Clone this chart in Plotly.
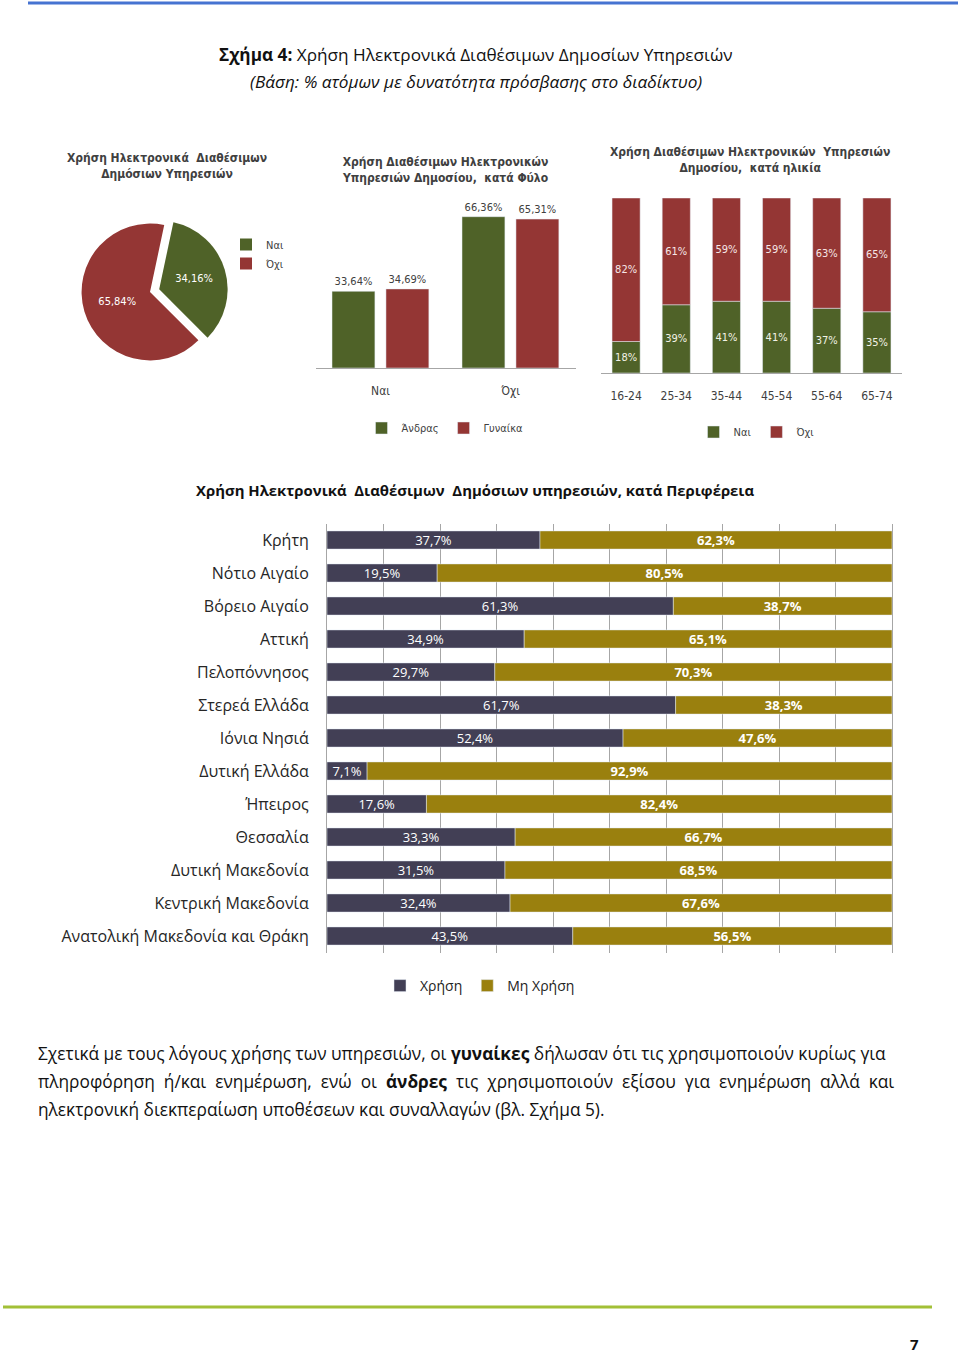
import plotly.graph_objects as go

W, H = 960, 1355


def px(x):
    return x / W


def py(y):
    return 1 - y / H


# ---------------- data ----------------
pie_labels = ["Ναι", "Όχι"]
pie_values = [34.16, 65.84]

gender_cats = ["Ναι", "Όχι"]
gender_male = [33.64, 66.36]
gender_female = [34.69, 65.31]

age_groups = ["16-24", "25-34", "35-44", "45-54", "55-64", "65-74"]
age_yes = [18, 39, 41, 41, 37, 35]
age_no = [82, 61, 59, 59, 63, 65]

regions = ["Κρήτη", "Νότιο Αιγαίο", "Βόρειο Αιγαίο", "Αττική", "Πελοπόννησος",
           "Στερεά Ελλάδα", "Ιόνια Νησιά", "Δυτική Ελλάδα", "Ήπειρος", "Θεσσαλία",
           "Δυτική Μακεδονία", "Κεντρική Μακεδονία", "Ανατολική Μακεδονία και Θράκη"]
region_use = [37.7, 19.5, 61.3, 34.9, 29.7, 61.7, 52.4, 7.1, 17.6, 33.3, 31.5, 32.4, 43.5]
region_nonuse = [62.3, 80.5, 38.7, 65.1, 70.3, 38.3, 47.6, 92.9, 82.4, 66.7, 68.5, 67.6, 56.5]

# ---------------- styles ----------------
BODY = "Open Sans, Noto Sans, sans-serif"
COND = "Liberation Sans Narrow, DejaVu Sans Condensed, sans-serif"
GREEN = "#4F6228"
RED = "#943634"
DARK = "#423F55"
OLIVE = "#9A800E"
GRID = "#A6A6A6"
TXT = "#404040"


def pct2(v):
    return f"{v:.2f}%".replace(".", ",")


def pct1(v):
    return f"{v:.1f}%".replace(".", ",")


def pct0(v):
    return f"{v:.0f}%"


fig = go.Figure()

# ---- pie ----
fig.add_trace(go.Pie(
    labels=pie_labels, values=pie_values, sort=False, direction="clockwise",
    rotation=12, pull=[0.14, 0],
    marker=dict(colors=[GREEN, RED]),
    text=[pct2(v) for v in pie_values], textinfo="text", textposition="inside",
    insidetextfont=dict(color="white", size=11, family=COND),
    domain=dict(x=[px(50), px(250)], y=[py(370), py(214)]),
    legend="legend", hoverinfo="label+percent",
))

# ---- gender bars ----
fig.add_trace(go.Bar(
    x=gender_cats, y=gender_male, name="Άνδρας", marker_color=GREEN,
    width=0.33, offset=-0.373, text=[pct2(v) for v in gender_male],
    textposition="outside", textfont=dict(size=11, color=TXT, family=COND),
    cliponaxis=False, xaxis="x", yaxis="y", legend="legend2",
))
fig.add_trace(go.Bar(
    x=gender_cats, y=gender_female, name="Γυναίκα", marker_color=RED,
    width=0.33, offset=0.042, text=[pct2(v) for v in gender_female],
    textposition="outside", textfont=dict(size=11, color=TXT, family=COND),
    cliponaxis=False, xaxis="x", yaxis="y", legend="legend2",
))

# ---- age stacked bars ----
fig.add_trace(go.Bar(
    x=age_groups, y=age_yes, name="Ναι", marker_color=GREEN, width=0.56,
    text=[pct0(v) for v in age_yes], textposition="inside",
    insidetextanchor="middle", constraintext="none",
    textfont=dict(size=11, color="#F2F2E6", family=COND),
    xaxis="x2", yaxis="y2", legend="legend3",
))
fig.add_trace(go.Bar(
    x=age_groups, y=age_no, base=age_yes, name="Όχι", marker_color=RED, width=0.56,
    text=[pct0(v) for v in age_no], textposition="inside",
    insidetextanchor="middle", constraintext="none",
    textfont=dict(size=11, color="#F6E6E6", family=COND),
    xaxis="x2", yaxis="y2", legend="legend3",
))

# ---- regions horizontal stacked ----
fig.add_trace(go.Bar(
    y=regions, x=region_use, orientation="h", name="Χρήση", marker_color=DARK,
    width=0.55, text=[pct1(v) for v in region_use], textposition="inside",
    insidetextanchor="middle", constraintext="none",
    textfont=dict(size=13, color="white", family=BODY),
    xaxis="x3", yaxis="y3", legend="legend4",
))
fig.add_trace(go.Bar(
    y=regions, x=region_nonuse, base=region_use, orientation="h", name="Μη Χρήση",
    marker_color=OLIVE, width=0.55, text=[pct1(v) for v in region_nonuse],
    texttemplate="<b>%{text}</b>", textposition="inside",
    insidetextanchor="middle", constraintext="none",
    textfont=dict(size=13, color="white", family=BODY),
    xaxis="x3", yaxis="y3", legend="legend4",
))

annotations = [
    dict(text="<b>Σχήμα 4:</b> Χρήση Ηλεκτρονικά Διαθέσιμων Δημοσίων Υπηρεσιών",
         x=px(476), y=py(54), font=dict(size=17.2, family=BODY, color="#111")),
    dict(text="<i>(Βάση: % ατόμων με δυνατότητα πρόσβασης στο διαδίκτυο)</i>",
         x=px(476), y=py(82), font=dict(size=17.2, family=BODY, color="#111")),
    dict(text="<b>Χρήση Ηλεκτρονικά  Διαθέσιμων<br>Δημόσιων Υπηρεσιών</b>",
         x=px(167), y=py(166), font=dict(size=12, family=COND, color=TXT)),
    dict(text="<b>Χρήση Διαθέσιμων Ηλεκτρονικών<br>Υπηρεσιών Δημοσίου,  κατά Φύλο</b>",
         x=px(445), y=py(170), font=dict(size=12, family=COND, color=TXT)),
    dict(text="<b>Χρήση Διαθέσιμων Ηλεκτρονικών  Υπηρεσιών<br>Δημοσίου,  κατά ηλικία</b>",
         x=px(750), y=py(160), font=dict(size=12, family=COND, color=TXT)),
    dict(text="<b>Χρήση Ηλεκτρονικά  Διαθέσιμων  Δημόσιων υπηρεσιών, κατά Περιφέρεια</b>",
         x=px(475), y=py(490), font=dict(size=14.9, family=BODY, color="#111")),
    dict(text="Σχετικά με τους λόγους χρήσης των υπηρεσιών, οι <b>γυναίκες</b> δήλωσαν ότι τις χρησιμοποιούν κυρίως για",
         x=px(36), y=py(1053), xanchor="left", font=dict(size=17.3, family=BODY, color="#111")),
    dict(text="πληροφόρηση  ή/και  ενημέρωση,  ενώ  οι  <b>άνδρες</b>  τις  χρησιμοποιούν  εξίσου  για  ενημέρωση  αλλά  και",
         x=px(36), y=py(1081), xanchor="left", font=dict(size=17.3, family=BODY, color="#111")),
    dict(text="ηλεκτρονική διεκπεραίωση υποθέσεων και συναλλαγών (βλ. Σχήμα 5).",
         x=px(36), y=py(1109), xanchor="left", font=dict(size=17.3, family=BODY, color="#111")),
    dict(text="<b>7</b>", x=px(914), y=py(1344), font=dict(size=15, family=BODY, color="#111")),
]
for a in annotations:
    a.setdefault("xanchor", "center")
    a.update(xref="paper", yref="paper", yanchor="middle", showarrow=False)

shapes = [
    dict(type="line", xref="paper", yref="paper", x0=px(28), x1=px(958), y0=py(3), y1=py(3),
         line=dict(color="#4673D1", width=3)),
    dict(type="line", xref="paper", yref="paper", x0=px(3), x1=px(932), y0=py(1307), y1=py(1307),
         line=dict(color="#A2C037", width=3)),
]

leg_common = dict(bgcolor="rgba(0,0,0,0)", itemwidth=30, traceorder="normal")

fig.update_layout(
    width=W, height=H, margin=dict(l=0, r=0, t=0, b=0),
    paper_bgcolor="white", plot_bgcolor="rgba(0,0,0,0)",
    barmode="overlay", font=dict(family=BODY, color=TXT),
    annotations=annotations, shapes=shapes,
    legend=dict(x=px(226), y=py(230), xanchor="left", yanchor="top", orientation="v",
                font=dict(size=11, family=COND, color=TXT), **leg_common),
    legend2=dict(x=px(445), y=py(428), xanchor="center", yanchor="middle", orientation="h",
                 font=dict(size=11, family=COND, color=TXT), **leg_common),
    legend3=dict(x=px(757), y=py(432), xanchor="center", yanchor="middle", orientation="h",
                 font=dict(size=11, family=COND, color=TXT), **leg_common),
    legend4=dict(x=px(480), y=py(986), xanchor="center", yanchor="middle", orientation="h",
                 font=dict(size=14, family=BODY, color="#222"), **leg_common),
    xaxis=dict(domain=[px(315.5), px(575.5)], range=[-0.5, 1.5], type="category",
               categoryarray=gender_cats, anchor="y", showline=True, linecolor=GRID,
               ticks="", showgrid=False, zeroline=False, ticklabelstandoff=12,
               tickfont=dict(size=12, family=COND, color=TXT)),
    yaxis=dict(domain=[py(368), py(368 - 70 * 2.28)], range=[0, 70], anchor="x",
               visible=False, showgrid=False),
    xaxis2=dict(domain=[px(601), px(902)], range=[-0.5, 5.5], type="category",
                categoryarray=age_groups, anchor="y2", showline=True, linecolor=GRID,
                ticks="", showgrid=False, zeroline=False, ticklabelstandoff=12,
                tickfont=dict(size=12, family=COND, color=TXT)),
    yaxis2=dict(domain=[py(373), py(198)], range=[0, 100], anchor="x2",
                visible=False, showgrid=False),
    xaxis3=dict(domain=[px(327), px(892)], range=[0, 100], anchor="y3", showgrid=True,
                gridcolor=GRID, gridwidth=1, dtick=10, showticklabels=False, ticks="",
                zeroline=False, showline=False),
    yaxis3=dict(domain=[py(952.5), py(523.5)], type="category", categoryarray=regions,
                range=[12.5, -0.5], anchor="x3", showline=True, linecolor=GRID, mirror=True,
                ticks="", showgrid=False, ticklabelstandoff=14,
                tickfont=dict(size=16, family=BODY, color="#262626")),
)

fig.write_html("out.html", config={"displayModeBar": False},
               post_script="document.body.style.margin='0';")
